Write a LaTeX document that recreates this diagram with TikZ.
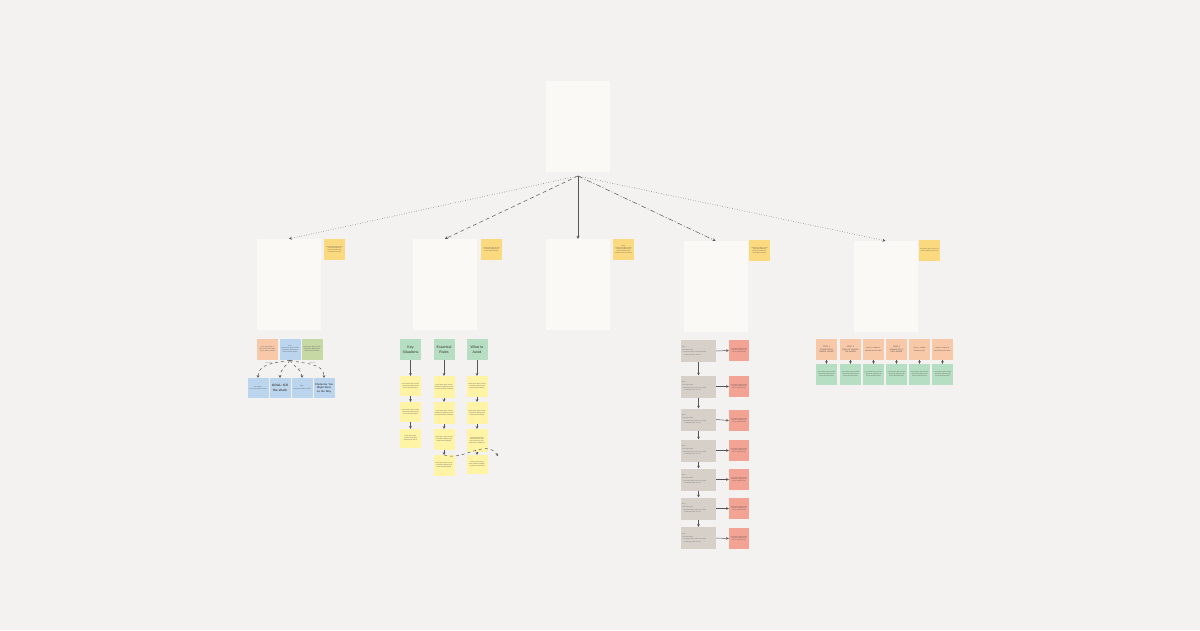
\documentclass[tikz,border=0pt]{standalone}
\usepackage{fontspec}
\setmainfont{Liberation Sans}
\usetikzlibrary{arrows.meta}
\definecolor{bgc}{RGB}{243,242,240}
\definecolor{cardc}{RGB}{250,249,245}
\definecolor{stickyc}{RGB}{251,217,126}
\definecolor{peachc}{RGB}{248,201,168}
\definecolor{bluec}{RGB}{187,213,238}
\definecolor{olivec}{RGB}{198,216,164}
\definecolor{mintc}{RGB}{182,222,194}
\definecolor{lemonc}{RGB}{255,244,166}
\definecolor{redc}{RGB}{243,163,147}
\definecolor{grayc}{RGB}{214,208,200}
\definecolor{linec}{RGB}{85,85,85}
\tikzset{
  card/.style={fill=cardc, draw=none, minimum width=64, minimum height=91, inner sep=0},
  sticky/.style={fill=stickyc, minimum width=21, minimum height=21, inner sep=1, text width=19, align=center, font=\fontsize{1.3}{1.7}\selectfont, text=black!70},
  tinybox/.style={minimum width=21, minimum height=21, inner sep=1, text width=19, align=center, font=\fontsize{1.4}{1.9}\selectfont, text=black!70},
  hdr/.style={tinybox, font=\fontsize{3.6}{4.6}\selectfont, text=black!80},
  conn/.style={draw=linec, line width=0.5pt, -{Stealth[length=3pt,width=3pt]}},
  sconn/.style={draw=linec, line width=0.5pt, -{Stealth[length=2.6pt,width=2.6pt]}},
}
\begin{document}
\begin{tikzpicture}[x=1pt,y=-1pt]
\useasboundingbox[fill=bgc] (0,0) rectangle (1200,630);

% top card
\node[card] (top) at (578,126.5) {};
\coordinate (root) at (578,176);

% level 2 cards
\node[card] (ca) at (289,284.5) {};
\node[card] (cb) at (445,284.5) {};
\node[card] (cc) at (578,284.5) {};
\node[card] (cd) at (715.5,286.5) {};
\node[card] (ce) at (885.5,286.5) {};

\node[sticky] (sa) at (334.5,249.5) {Lorem ipsum dolor sit amet consectetur adipiscing elit sed do eiusmod tempor incididunt ut labore};
\node[sticky] (sb) at (491.5,249.5) {Lorem ipsum dolor sit amet consectetur adipiscing elit sed do eiusmod tempor};
\node[sticky] (sc) at (623.5,249.5) {Notes\\ Lorem ipsum dolor sit amet consectetur adipiscing elit sed do eiusmod tempor incididunt ut labore et dolore};
\node[sticky] (sd) at (759.5,250.5) {Lorem ipsum dolor sit amet consectetur adipiscing elit sed do eiusmod tempor incididunt ut labore};
\node[sticky] (se) at (929.5,250.5) {Lorem ipsum dolor sit amet consectetur adipiscing elit sed do};

% connectors from root
\draw[conn, dotted] (root) -- (ca.north);
\draw[conn, dash pattern=on 4pt off 3pt] (root) -- (cb.north);
\draw[conn] (root) -- (cc.north);
\draw[conn, dash pattern=on 5pt off 2pt on 1pt off 2pt] (root) -- (cd.north);
\draw[conn, dotted] (root) -- (ce.north);

% ---------- group A ----------
\node[tinybox, fill=peachc] (a1) at (267.5,349.5) {Lorem ipsum dolor sit amet consectetur adipiscing elit sed do eiusmod};
\node[tinybox, fill=bluec, minimum width=20] (a2) at (290,349.5) {Intro\\ Lorem ipsum dolor sit amet consectetur adipiscing elit sed do eiusmod tempor};
\node[tinybox, fill=olivec, minimum width=20] (a3) at (312,349.5) {Lorem ipsum dolor sit amet consectetur adipiscing elit sed do eiusmod tempor};

\node[tinybox, fill=bluec, minimum width=20, minimum height=20] (b1) at (258,388) {Use lasers?\\ Lorem ipsum dolor sit amet};
\node[tinybox, fill=bluec, minimum width=20, minimum height=20, font=\fontsize{3.2}{4.4}\selectfont\bfseries] (b2) at (280,388) {GOAL: Kill the shark};
\node[tinybox, fill=bluec, minimum width=20, minimum height=20] (b3) at (302,388) {Ideas\\[1pt] Lorem ipsum dolor sit amet};
\node[tinybox, fill=bluec, minimum width=20, minimum height=20, font=\fontsize{2.6}{3.4}\selectfont\bfseries] (b4) at (324,388) {Obstacles You Might Meet on the Way};

\draw[sconn, dashed] (a2.south) to[out=190,in=90] node[pos=0.5,above,font=\fontsize{1.2}{1.4}\selectfont,text=black!60,inner sep=0.5]{lorem ipsum} (b1.north);
\draw[sconn, dashed] (a2.south) to[out=235,in=90] (b2.north);
\draw[sconn, dashed] (a2.south) to[out=300,in=90] node[pos=0.5,right,font=\fontsize{1.2}{1.4}\selectfont,text=black!60,inner sep=0.5]{lorem} (b3.north);
\draw[sconn, dashed] (a2.south) to[out=345,in=90] node[pos=0.5,above,font=\fontsize{1.2}{1.4}\selectfont,text=black!60,inner sep=0.5]{lorem ipsum} (b4.north);

% ---------- group B ----------
\node[hdr, fill=mintc] (k1) at (410.5,349.5) {Key Situations};
\node[hdr, fill=mintc] (k2) at (444,349.5) {Essential Rules};
\node[hdr, fill=mintc] (k3) at (477,349.5) {What to Avoid};

\node[tinybox, fill=lemonc, minimum height=20] (p1) at (410.5,386) {Lorem ipsum dolor sit amet consectetur adipiscing elit sed do eiusmod tempor};
\node[tinybox, fill=lemonc, minimum height=20] (p2) at (410.5,412) {Lorem ipsum dolor sit amet consectetur adipiscing elit sed do eiusmod tempor};
\node[tinybox, fill=lemonc, minimum height=19] (p3) at (410.5,438.5) {Lorem ipsum dolor sit amet consectetur adipiscing elit sed do};

\node[tinybox, fill=lemonc, minimum height=22] (q1) at (444,387) {Lorem ipsum dolor sit amet consectetur adipiscing elit sed do eiusmod tempor incididunt};
\node[tinybox, fill=lemonc, minimum height=22] (q2) at (444,413) {Lorem ipsum dolor sit amet consectetur adipiscing elit sed do eiusmod tempor incididunt};
\node[tinybox, fill=lemonc, minimum height=21] (q3) at (444,439.5) {Lorem ipsum dolor sit amet consectetur adipiscing elit sed do eiusmod tempor};
\node[tinybox, fill=lemonc, minimum height=21] (q4) at (444,465.5) {Lorem ipsum dolor sit amet consectetur adipiscing elit sed do eiusmod tempor};

\node[tinybox, fill=lemonc, minimum height=21] (r1) at (477,386.5) {Lorem ipsum dolor sit amet consectetur adipiscing elit sed do eiusmod tempor};
\node[tinybox, fill=lemonc, minimum height=22] (r2) at (477,413) {Lorem ipsum dolor sit amet consectetur adipiscing elit sed do eiusmod tempor};
\node[tinybox, fill=lemonc, minimum height=23] (r3) at (477,440.5) {Lorem ipsum dolor sit amet consectetur adipiscing elit sed do eiusmod tempor incididunt ut};
\node[tinybox, fill=lemonc, minimum height=19] (r4) at (477,464.5) {Lorem ipsum dolor sit amet consectetur adipiscing elit sed do eiusmod};

\foreach \u/\v in {k1/p1,p1/p2,p2/p3,k2/q1,q1/q2,q2/q3,q3/q4,k3/r1,r1/r2,r2/r3,r3/r4}
  \draw[sconn] (\u.south) -- (\v.north);

\coordinate (qend) at (498,456);
\draw[sconn, dashed] (q4.north) .. controls (462,462) and (486,438) .. (qend);

% ---------- group D ----------
\foreach \i/\y/\ry in {1/351/350.5,2/386.5/386.5,3/419.5/420.5,4/450.5/450.5,5/479.5/479.5,6/508.5/508.5,7/538/538.5}{
  \node[fill=grayc, minimum width=35, minimum height=22, inner sep=1, text width=33, align=left, font=\fontsize{1.3}{2.6}\selectfont, text=black!65] (g\i) at (698.5,\y) {Step \i\\ Lorem ipsum dolor\\ -- Lorem ipsum dolor sit amet consectetur\\ \quad -- Lorem ipsum dolor sit amet};
  \node[fill=redc, minimum width=20, minimum height=21, inner sep=1, text width=18, align=center, font=\fontsize{1.3}{1.7}\selectfont, text=black!70] (h\i) at (739,\ry) {Lorem ipsum dolor sit amet consectetur adipiscing elit sed do eiusmod tempor};
  \draw[sconn] (g\i.east) -- (h\i.west);
}
\foreach \u/\v in {g1/g2,g2/g3,g3/g4,g4/g5,g5/g6,g6/g7}
  \draw[sconn] (\u.south) -- (\v.north);

% ---------- group E ----------
\node[tinybox, fill=peachc, font=\fontsize{2}{2.8}\selectfont] (e1) at (826.5,349.5) {STEP 1\\ CHASE WITH SHARK LASER};
\node[tinybox, fill=peachc, font=\fontsize{2}{2.8}\selectfont] (e2) at (850.5,349.5) {STEP 2\\ LOOK AT SHARKFIN HANDS};
\node[tinybox, fill=peachc, font=\fontsize{1.5}{2.2}\selectfont] (e3) at (873.5,349.5) {STEP 3: LOREM IPSUM DOLOR SIT AMET};
\node[tinybox, fill=peachc, font=\fontsize{2}{2.8}\selectfont] (e4) at (896.5,349.5) {STEP 4\\ ALWAYS STILL LIKE SHARK};
\node[tinybox, fill=peachc, font=\fontsize{1.5}{2.2}\selectfont] (e5) at (919.5,349.5) {STEP 5: LOREM IPSUM DOLOR};
\node[tinybox, fill=peachc, font=\fontsize{1.5}{2.2}\selectfont] (e6) at (942.5,349.5) {STEP 6: LOREM IPSUM DOLOR SIT AMET};
\foreach \i/\x in {1/826.5,2/850.5,3/873.5,4/896.5,5/919.5,6/942.5}{
  \node[tinybox, fill=mintc, minimum height=21] (f\i) at (\x,374.5) {Lorem ipsum dolor sit amet consectetur adipiscing elit sed do eiusmod tempor};
  \draw[sconn] (e\i.south) -- (f\i.north);
}
\end{tikzpicture}
\end{document}
